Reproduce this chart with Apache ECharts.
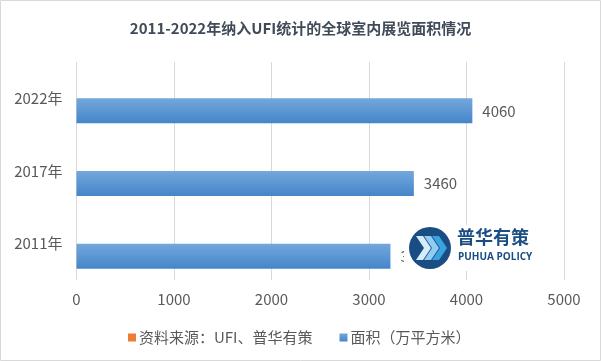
<!DOCTYPE html>
<html><head><meta charset="utf-8">
<script src="https://cdn.jsdelivr.net/npm/echarts@6/dist/echarts.min.js"></script>
<style>html,body{margin:0;padding:0;background:#fff}#c{width:601px;height:361px}</style>
</head><body><div id="c"></div>
<script>
const categories = ['2011年', '2017年', '2022年'];
const areaValues = [3220, 3460, 4060];
const sourceValues = [null, null, null];
const xTicks = [0, 1000, 2000, 3000, 4000, 5000];
const titleText = '2011-2022年纳入UFI统计的全球室内展览面积情况';
const sourceName = '资料来源：UFI、普华有策';
const areaName = '面积（万平方米）';

const font = '"Noto Sans CJK SC", "Noto Sans", sans-serif';
const chart = echarts.init(document.getElementById('c'), null, {renderer: 'canvas'});
const Z = 100;
chart.setOption({
  animation: false,
  backgroundColor: '#fff',
  textStyle: {fontFamily: font},
  title: {
    text: titleText, left: 'center', top: 16,
    textStyle: {fontSize: 15, fontWeight: 'bold', color: '#414b58', fontFamily: font}
  },
  legend: {
    left: 123, top: 325, itemWidth: 8, itemHeight: 8, itemGap: 27, icon: 'rect',
    textStyle: {fontSize: 15, color: '#595959', fontFamily: font, padding: [0,0,0,-2]},
    data: [sourceName, areaName]
  },
  grid: {left: 76.5, right: 37, top: 62, bottom: 81},
  xAxis: {
    type: 'value', min: xTicks[0], max: xTicks[xTicks.length-1], interval: 1000,
    axisLine: {show: false}, axisTick: {show: false},
    splitLine: {lineStyle: {color: '#d9d9d9', width: 1}},
    axisLabel: {color: '#595959', fontSize: 15, margin: 12, fontFamily: font, formatter: v => String(v)}
  },
  yAxis: {
    type: 'category', data: categories,
    axisLine: {show: false}, axisTick: {show: false},
    axisLabel: {color: '#595959', fontSize: 15, margin: 14, fontFamily: font}
  },
  series: [
    {name: sourceName, type: 'bar', data: sourceValues, barWidth: 25, barGap: '0%',
     itemStyle: {color: '#ed7d31'}},
    {name: areaName, type: 'bar', data: areaValues, barWidth: 25, barGap: '0%',
     itemStyle: {color: new echarts.graphic.LinearGradient(0,0,0,1,[
       {offset: 0, color: '#74a7dc'}, {offset: 1, color: '#4486c9'}])},
     label: {show: true, position: 'right', distance: 10, color: '#595959', fontSize: 15, fontFamily: font}}
  ],
  graphic: [
    {type: 'rect', z: Z, shape: {x: 0.5, y: 0.5, width: 600, height: 360}, style: {fill: 'none', stroke: '#d9d9d9', lineWidth: 1}},
    {type: 'rect', z: Z, shape: {x: 404, y: 225, width: 134, height: 46}, style: {fill: '#ffffff'}},
    {type: 'circle', z: Z, shape: {cx: 430, cy: 248, r: 21}, style: {fill: '#1b4d85'}},
    {type: 'polygon', z: Z, shape: {points: [[416,236],[423,236],[431,248],[423,260],[416,260],[424,248]]}, style: {fill: '#d6ecfa'}},
    {type: 'polygon', z: Z, shape: {points: [[424,236],[431,236],[439,248],[431,260],[424,260],[432,248]]}, style: {fill: '#8fcdf2'}},
    {type: 'polygon', z: Z, shape: {points: [[432,236],[439,236],[447,248],[439,260],[432,260],[440,248]]}, style: {fill: '#3aa3e0'}},
    {type: 'text', z: Z, style: {x: 457, y: 228, text: '普华有策', fontSize: 18, fontWeight: 'bold', fill: '#1b4d85', fontFamily: font}},
    {type: 'text', z: Z, style: {x: 458, y: 252, text: 'PUHUA POLICY', fontSize: 10, fontWeight: 'bold', fill: '#1b4d85', fontFamily: '"Open Sans", sans-serif'}}
  ]
});
</script></body></html>
